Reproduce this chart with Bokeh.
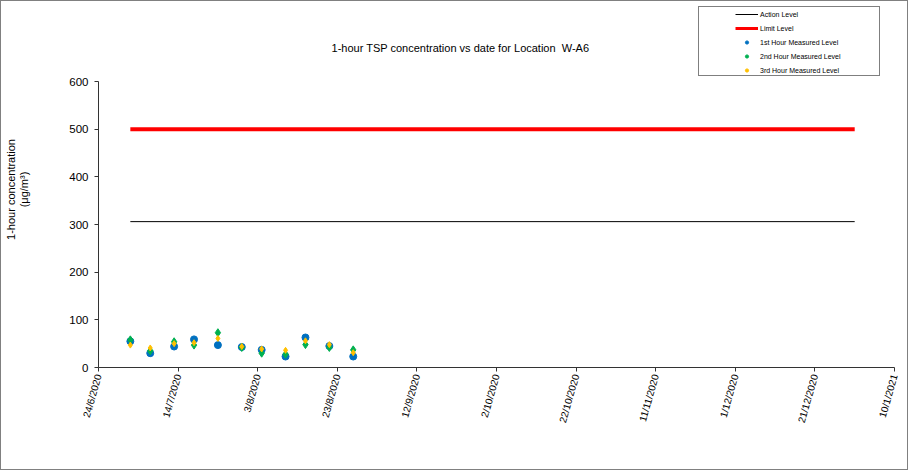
import math
from datetime import datetime

from bokeh.plotting import figure
from bokeh.layouts import column, row
from bokeh.models import ColumnDataSource, Range1d, FixedTicker, Label, Legend, LegendItem
from bokeh.embed import file_html
from bokeh.resources import INLINE

# ---------------- data ----------------
sample_dates = ["2/7/2020", "7/7/2020", "13/7/2020", "18/7/2020", "24/7/2020", "30/7/2020",
                "4/8/2020", "10/8/2020", "15/8/2020", "21/8/2020", "27/8/2020"]
first_hour = [55, 30, 44, 59, 47, 43, 37, 23, 63, 45, 23]
second_hour = [58, 35, 54, 47, 73, 42, 30, 28, 48, 42, 37]
third_hour = [47, 41, 50, 52, 61, 44, 39, 36, 56, 48, 31]

level_dates = ["2/7/2020", "31/12/2020"]
action_level = [306, 306]
limit_level = [500, 500]

x_tick_labels = ["24/6/2020", "14/7/2020", "3/8/2020", "23/8/2020", "12/9/2020", "2/10/2020",
                 "22/10/2020", "11/11/2020", "1/12/2020", "21/12/2020", "10/1/2021"]
y_ticks = [0, 100, 200, 300, 400, 500, 600]

title_text = "1-hour TSP concentration vs date for Location\u00a0 W-A6"
y_label_lines = ["1-hour concentration", "(\u03bcg/m\u00b3)"]
legend_labels = ["Action Level", "Limit Level", "1st Hour Measured Level",
                 "2nd Hour Measured Level", "3rd Hour Measured Level"]

FONT = "Liberation Sans"
BLUE, GREEN, YELLOW, RED = "#0070C0", "#00B050", "#FFC000", "#FF0000"


def parse(s):
    return datetime.strptime(s, "%d/%m/%Y")


def ms(d):
    return (d - datetime(1970, 1, 1)).total_seconds() * 1000.0


def blank_fig(w, h):
    f = figure(width=w, height=h, x_range=Range1d(0, w), y_range=Range1d(0, h),
               output_backend="svg", toolbar_location=None,
               x_axis_location=None, y_axis_location=None,
               min_border=0, min_border_left=0, min_border_right=0,
               min_border_top=0, min_border_bottom=0)
    f.xgrid.visible = False
    f.ygrid.visible = False
    f.outline_line_color = None
    f.background_fill_color = "white"
    f.border_fill_color = "white"
    return f


sx = [parse(d) for d in sample_dates]
lx = [parse(d) for d in level_dates]
tick_dates = [parse(d) for d in x_tick_labels]
t0, t1 = tick_dates[0], tick_dates[-1]

pts = ColumnDataSource(dict(x=sx, a=first_hour, b=second_hour, c=third_hour))
lvl = ColumnDataSource(dict(x=lx, act=action_level, lim=limit_level))

# ---------------- main plot ----------------
p = figure(width=876, height=392, x_axis_type="datetime",
           x_range=Range1d(t0, t1), y_range=Range1d(0, 600),
           output_backend="svg", toolbar_location=None,
           min_border_left=67, min_border_right=13, min_border_top=4, min_border_bottom=102)
p.xgrid.visible = False
p.ygrid.visible = False
p.outline_line_color = None
p.background_fill_color = "white"
p.border_fill_color = "white"

for ax in (p.xaxis[0], p.yaxis[0]):
    ax.axis_line_color = "#333333"
    ax.major_tick_line_color = "#333333"
    ax.major_tick_in = 0
    ax.major_tick_out = 4
    ax.minor_tick_line_color = None
    ax.major_label_text_font = FONT
    ax.major_label_text_color = "black"

p.yaxis.ticker = FixedTicker(ticks=y_ticks)
p.yaxis.major_label_text_font_size = "11.5px"
p.yaxis.major_label_standoff = 6

p.xaxis.ticker = FixedTicker(ticks=[ms(d) for d in tick_dates])
p.xaxis.major_label_overrides = {ms(d): lab for d, lab in zip(tick_dates, x_tick_labels)}
p.xaxis.major_label_orientation = math.radians(74)
p.xaxis.major_label_text_font_size = "10px"
p.xaxis.major_label_standoff = 3

line_styles = [dict(line_color="black", line_width=1), dict(line_color=RED, line_width=4)]
marker_styles = [dict(marker="circle", size=7, fill_color=BLUE, line_color=BLUE),
                 dict(marker="diamond", size=8, fill_color=GREEN, line_color=GREEN),
                 dict(marker="diamond", size=6, fill_color=YELLOW, line_color=YELLOW)]

p.line("x", "act", source=lvl, **line_styles[0])
p.line("x", "lim", source=lvl, **line_styles[1])
for col, st in zip(["a", "b", "c"], marker_styles):
    p.scatter("x", col, source=pts, **st)

# ---------------- top strip: title + legend ----------------
top = blank_fig(906, 76)
top.add_layout(Label(x=459, y=30, text=title_text, text_font=FONT, text_font_size="11px",
                     text_align="center", text_baseline="middle", text_color="black"))

# legend proxies live outside the visible range; they only supply legend glyphs
off = dict(x=[-60, -40], y=[-60, -60])
dummy = top.scatter(x=[-60], y=[-60], size=0, alpha=0)
box = Legend(items=[LegendItem(label=" ", renderers=[dummy])], location=(697, 1),
             padding=0, spacing=0, margin=0, glyph_width=1, glyph_height=68,
             label_width=179, label_height=68, label_standoff=0,
             border_line_color="black", border_line_width=1,
             background_fill_color="white", background_fill_alpha=1,
             label_text_font_size="1px")
top.add_layout(box)

legend_line_styles = [dict(line_color="black", line_width=1), dict(line_color=RED, line_width=3)]
legend_marker_styles = [dict(marker="circle", size=4, fill_color=BLUE, line_color=BLUE),
                        dict(marker="circle", size=4, fill_color=GREEN, line_color=GREEN),
                        dict(marker="circle", size=4, fill_color=YELLOW, line_color=YELLOW)]
leg_renderers = [top.line(off["x"], off["y"], **st) for st in legend_line_styles]
leg_renderers += [top.scatter(off["x"][:1], off["y"][:1], **st) for st in legend_marker_styles]
items = [LegendItem(label=l, renderers=[r]) for l, r in zip(legend_labels, leg_renderers)]
leg = Legend(items=items, location=(734, 0), padding=0, spacing=0, margin=0,
             glyph_width=23, glyph_height=8, label_height=14, label_standoff=2,
             label_text_font=FONT, label_text_font_size="7px", label_text_color="black",
             border_line_alpha=0, background_fill_alpha=0)
top.add_layout(leg)

# ---------------- left strip: y axis title ----------------
left = blank_fig(30, 392)
left.add_layout(Label(x=9.3, y=244, text=y_label_lines[0], angle=math.pi / 2,
                      text_font=FONT, text_font_size="11px", text_align="center",
                      text_baseline="middle", text_color="black"))
left.add_layout(Label(x=22, y=244, text=y_label_lines[1], angle=math.pi / 2,
                      text_font=FONT, text_font_size="11px", text_align="center",
                      text_baseline="middle", text_color="black"))

layout = column(top, row(left, p, spacing=0), spacing=0,
                styles={"border": "1px solid #808080", "background-color": "white"})

open("out.html", "w").write(file_html(layout, INLINE))
